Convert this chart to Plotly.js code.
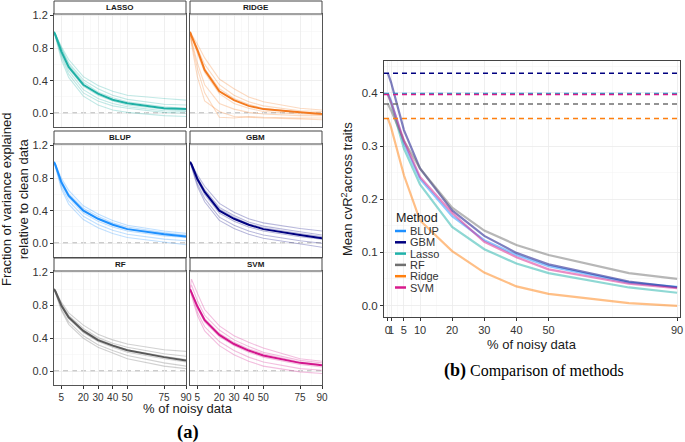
<!DOCTYPE html>
<html><head><meta charset="utf-8">
<script src="https://cdn.plot.ly/plotly-3.0.1.min.js"></script>
<style>html,body{margin:0;padding:0;background:#fff}#chart{width:685px;height:442px}</style>
</head><body><div id="chart"></div>
<script>
// ---------------- DATA ----------------
const noiseLevels = [0, 1, 5, 10, 20, 30, 40, 50, 75, 90];

// Panel (a): fraction of variance explained relative to clean data
const panelNames = ['LASSO', 'RIDGE', 'BLUP', 'GBM', 'RF', 'SVM'];
const relMean_LASSO = [1, 0.96, 0.76, 0.57, 0.35, 0.24, 0.165, 0.123, 0.062, 0.05];
const relMean_RIDGE = [1, 0.95, 0.78, 0.53, 0.27, 0.16, 0.09, 0.05, 0.01, -0.01];
const relMean_BLUP  = [1, 0.96, 0.75, 0.585, 0.40, 0.30, 0.227, 0.173, 0.11, 0.083];
const relMean_GBM   = [1, 0.97, 0.79, 0.63, 0.40, 0.30, 0.227, 0.173, 0.10, 0.062];
const relMean_RF    = [1, 0.97, 0.80, 0.655, 0.49, 0.377, 0.31, 0.253, 0.17, 0.128];
const relMean_SVM   = [1, 0.96, 0.79, 0.62, 0.44, 0.33, 0.25, 0.19, 0.10, 0.07];

const relTraits_LASSO = [
  [1, 0.97, 0.82, 0.66, 0.45, 0.34, 0.27, 0.22, 0.18, 0.16],
  [1, 0.97, 0.80, 0.62, 0.41, 0.30, 0.22, 0.17, 0.11, 0.10],
  [1, 0.95, 0.74, 0.55, 0.33, 0.22, 0.15, 0.10, 0.05, 0.03],
  [1, 0.94, 0.70, 0.48, 0.25, 0.15, 0.09, 0.06, 0.01, 0.00],
  [1, 0.93, 0.66, 0.44, 0.21, 0.10, 0.04, 0.01, -0.03, -0.04],
  [1, 0.96, 0.78, 0.60, 0.38, 0.26, 0.19, 0.14, 0.08, 0.06],
  [1, 0.95, 0.72, 0.52, 0.29, 0.18, 0.12, 0.08, 0.03, 0.02]
];
const relTraits_RIDGE = [
  [1, 0.97, 0.85, 0.68, 0.42, 0.30, 0.20, 0.14, 0.06, 0.04],
  [1, 0.96, 0.80, 0.60, 0.35, 0.22, 0.14, 0.09, 0.03, 0.02],
  [1, 0.94, 0.74, 0.50, 0.24, 0.12, 0.06, 0.02, -0.01, -0.02],
  [1, 0.90, 0.62, 0.35, 0.12, 0.05, 0.01, -0.01, -0.03, -0.03],
  [1, 0.85, 0.45, 0.15, 0.02, -0.04, -0.05, -0.06, -0.07, -0.08],
  [1, 0.88, 0.55, 0.25, -0.05, -0.06, -0.04, -0.05, -0.06, -0.06],
  [1, 0.95, 0.77, 0.55, 0.30, 0.18, 0.11, 0.06, 0.01, 0.00]
];
const relTraits_BLUP = [
  [1, 0.97, 0.80, 0.65, 0.46, 0.36, 0.28, 0.22, 0.15, 0.12],
  [1, 0.96, 0.77, 0.61, 0.43, 0.33, 0.25, 0.20, 0.13, 0.10],
  [1, 0.95, 0.73, 0.56, 0.37, 0.27, 0.20, 0.15, 0.09, 0.07],
  [1, 0.94, 0.70, 0.52, 0.33, 0.23, 0.16, 0.11, 0.05, 0.03],
  [1, 0.93, 0.67, 0.48, 0.29, 0.19, 0.12, 0.07, 0.01, -0.02],
  [1, 0.96, 0.76, 0.59, 0.41, 0.31, 0.24, 0.18, 0.12, 0.09]
];
const relTraits_GBM = [
  [1, 0.98, 0.84, 0.70, 0.49, 0.38, 0.30, 0.25, 0.18, 0.15],
  [1, 0.97, 0.81, 0.66, 0.44, 0.34, 0.26, 0.21, 0.14, 0.10],
  [1, 0.96, 0.77, 0.60, 0.37, 0.27, 0.20, 0.15, 0.08, 0.05],
  [1, 0.95, 0.73, 0.55, 0.32, 0.22, 0.15, 0.10, 0.03, 0.00],
  [1, 0.94, 0.70, 0.51, 0.28, 0.18, 0.11, 0.06, -0.01, -0.05],
  [1, 0.97, 0.80, 0.64, 0.42, 0.32, 0.24, 0.19, 0.12, 0.08]
];
const relTraits_RF = [
  [1, 0.98, 0.84, 0.71, 0.56, 0.45, 0.38, 0.33, 0.26, 0.24],
  [1, 0.97, 0.82, 0.68, 0.52, 0.41, 0.34, 0.29, 0.21, 0.18],
  [1, 0.97, 0.79, 0.64, 0.47, 0.36, 0.29, 0.23, 0.15, 0.11],
  [1, 0.96, 0.76, 0.60, 0.43, 0.32, 0.25, 0.19, 0.10, 0.06],
  [1, 0.95, 0.74, 0.57, 0.40, 0.29, 0.22, 0.15, 0.06, 0.03],
  [1, 0.97, 0.81, 0.66, 0.50, 0.39, 0.32, 0.26, 0.18, 0.14]
];
const relTraits_SVM = [
  [1, 1.12, 0.95, 0.75, 0.55, 0.43, 0.35, 0.28, 0.15, 0.12],
  [1, 1.05, 0.86, 0.68, 0.50, 0.38, 0.30, 0.23, 0.13, 0.10],
  [1, 0.96, 0.77, 0.60, 0.42, 0.31, 0.23, 0.17, 0.08, 0.05],
  [1, 0.94, 0.72, 0.54, 0.36, 0.25, 0.17, 0.11, 0.03, 0.01],
  [1, 0.92, 0.68, 0.49, 0.31, 0.20, 0.12, 0.06, -0.01, -0.03],
  [1, 0.97, 0.80, 0.64, 0.46, 0.35, 0.27, 0.21, 0.11, 0.08]
];

// Panel (b): mean cvR2 across traits
const methods = ['BLUP', 'GBM', 'Lasso', 'RF', 'Ridge', 'SVM'];
const cleanR2 = [0.399, 0.437, 0.398, 0.379, 0.352, 0.397];
const meanR2_BLUP  = [0.399, 0.385, 0.305, 0.238, 0.168, 0.123, 0.095, 0.074, 0.043, 0.035];
const meanR2_GBM   = [0.437, 0.420, 0.330, 0.258, 0.179, 0.131, 0.099, 0.0775, 0.045, 0.034];
const meanR2_Lasso = [0.398, 0.380, 0.295, 0.228, 0.148, 0.106, 0.079, 0.061, 0.034, 0.024];
const meanR2_RF    = [0.379, 0.367, 0.310, 0.258, 0.184, 0.141, 0.114, 0.095, 0.061, 0.050];
const meanR2_Ridge = [0.352, 0.335, 0.245, 0.160, 0.1025, 0.062, 0.036, 0.022, 0.0044, -0.0006];
const meanR2_SVM   = [0.397, 0.382, 0.310, 0.242, 0.174, 0.120, 0.091, 0.068, 0.041, 0.0325];

const leftTickVals = [5, 20, 30, 40, 50, 75, 90];
const rightTickVals = [0, 1, 5, 10, 20, 30, 40, 50, 90];

// ---------------- STYLE / LAYOUT ----------------
const W = 685, H = 442;
const px = x => x / W, py = y => 1 - y / H;
const FONT = 'Liberation Sans, Arial, sans-serif';
const SERIF = 'Liberation Serif, Times New Roman, serif';

const panelColors = ['#1FB0A5', '#F47A1F', '#1E90FF', '#000080', '#595959', '#D3168D'];
const panelMeans = [relMean_LASSO, relMean_RIDGE, relMean_BLUP, relMean_GBM, relMean_RF, relMean_SVM];
const panelTraits = [relTraits_LASSO, relTraits_RIDGE, relTraits_BLUP, relTraits_GBM, relTraits_RF, relTraits_SVM];
const methodColors = ['#1E90FF', '#000080', '#20B2AA', '#707070', '#FF7F0E', '#D81B8C'];
const methodMeans = [meanR2_BLUP, meanR2_GBM, meanR2_Lasso, meanR2_RF, meanR2_Ridge, meanR2_SVM];

const colsX = [[54, 186], [190, 322]];
const rowsY = [[14, 127], [144, 257], [271, 385]];
const stripY = [[1, 14], [131, 144], [258, 271]];

const traces = [];
const layout = {
  width: W, height: H, margin: {l: 0, r: 0, t: 0, b: 0},
  paper_bgcolor: '#fff', plot_bgcolor: '#fff', showlegend: false,
  font: {family: FONT, color: '#333'},
  shapes: [], annotations: []
};

function hexA(hex, a) {
  const n = parseInt(hex.slice(1), 16);
  return `rgba(${(n >> 16) & 255},${(n >> 8) & 255},${n & 255},${a})`;
}

panelNames.forEach((name, i) => {
  const row = Math.floor(i / 2), col = i % 2;
  const k = i + 1, xs = 'x' + (k === 1 ? '' : k), ys = 'y' + (k === 1 ? '' : k);
  const xa = 'xaxis' + (k === 1 ? '' : k), ya = 'yaxis' + (k === 1 ? '' : k);
  const bottom = row === 2, left = col === 0;
  layout[xa] = {
    domain: [px(colsX[col][0]), px(colsX[col][1])], range: [0, 90], anchor: ys,
    tickmode: 'array', tickvals: leftTickVals, ticktext: leftTickVals.map(String), tickangle: 0,
    showticklabels: bottom, ticks: bottom ? 'outside' : '', ticklen: 3, tickcolor: '#333',
    tickfont: {size: 10, color: '#333'},
    showgrid: true, gridcolor: '#EBEBEB', gridwidth: 0.8, zeroline: false,
    minor: {tickvals: [12.5, 25, 35, 45, 62.5, 82.5], showgrid: true, gridcolor: '#F3F3F3', gridwidth: 0.5},
    showline: true, mirror: true, linecolor: '#555', linewidth: 1
  };
  layout[ya] = {
    domain: [py(rowsY[row][1]), py(rowsY[row][0])], range: [-0.17, 1.22], anchor: xs,
    tickmode: 'array', tickvals: [0, 0.4, 0.8, 1.2], ticktext: ['0.0', '0.4', '0.8', '1.2'],
    showticklabels: left, ticks: left ? 'outside' : '', ticklen: 3, tickcolor: '#333',
    tickfont: {size: 11, color: '#333'},
    showgrid: true, gridcolor: '#EBEBEB', gridwidth: 0.8, zeroline: false,
    minor: {tickvals: [0.2, 0.6, 1.0], showgrid: true, gridcolor: '#F3F3F3', gridwidth: 0.5},
    showline: true, mirror: true, linecolor: '#555', linewidth: 1
  };
  // zero reference line
  layout.shapes.push({type: 'line', xref: xs + ' domain', yref: ys, x0: 0, x1: 1, y0: 0, y1: 0,
    line: {color: '#999', width: 1.2, dash: '5px,4px'}, layer: 'below'});
  // strip
  layout.shapes.push({type: 'rect', xref: 'paper', yref: 'paper',
    x0: px(colsX[col][0]), x1: px(colsX[col][1]), y0: py(stripY[row][1]), y1: py(stripY[row][0]),
    fillcolor: '#FFFFFF', line: {color: '#444', width: 1}});
  layout.annotations.push({xref: 'paper', yref: 'paper', x: px((colsX[col][0] + colsX[col][1]) / 2),
    y: py((stripY[row][0] + stripY[row][1]) / 2), text: '<b>' + name + '</b>', showarrow: false,
    font: {size: 8, color: '#1a1a1a', family: FONT}, xanchor: 'center', yanchor: 'middle'});
  // trait lines
  panelTraits[i].forEach(t => traces.push({x: noiseLevels, y: t, xaxis: xs, yaxis: ys, mode: 'lines',
    line: {color: hexA(panelColors[i], 0.28), width: 1.1}, hoverinfo: 'skip'}));
  // mean line
  traces.push({x: noiseLevels, y: panelMeans[i], xaxis: xs, yaxis: ys, mode: 'lines',
    line: {color: panelColors[i], width: 2}});
});

// Panel (b)
layout.xaxis7 = {
  domain: [px(384), px(680)], range: [-1.2, 90.9], anchor: 'y7',
  tickmode: 'array', tickvals: rightTickVals, ticktext: rightTickVals.map(String), tickangle: 0,
  ticks: 'outside', ticklen: 3, tickcolor: '#333', tickfont: {size: 11, color: '#333'},
  showgrid: true, gridcolor: '#EBEBEB', gridwidth: 0.8, zeroline: false,
  minor: {tickvals: [0.5, 3, 7.5, 15, 25, 35, 45, 70], showgrid: true, gridcolor: '#F3F3F3', gridwidth: 0.5},
  showline: true, mirror: true, linecolor: '#444', linewidth: 1
};
layout.yaxis7 = {
  domain: [py(316.7), py(61)], range: [-0.021, 0.46], anchor: 'x7',
  tickmode: 'array', tickvals: [0, 0.1, 0.2, 0.3, 0.4], ticktext: ['0.0', '0.1', '0.2', '0.3', '0.4'],
  ticks: 'outside', ticklen: 3, tickcolor: '#333', tickfont: {size: 11.5, color: '#333'},
  showgrid: true, gridcolor: '#EBEBEB', gridwidth: 0.8, zeroline: false,
  minor: {tickvals: [0.05, 0.15, 0.25, 0.35, 0.45], showgrid: true, gridcolor: '#F3F3F3', gridwidth: 0.5},
  showline: true, mirror: true, linecolor: '#444', linewidth: 1
};
methods.forEach((m, i) => {
  layout.shapes.push({type: 'line', xref: 'x7 domain', yref: 'y7', x0: 0, x1: 1, y0: cleanR2[i], y1: cleanR2[i],
    line: {color: methodColors[i], width: 1.5, dash: '5px,4px'}});
  traces.push({x: noiseLevels, y: methodMeans[i], xaxis: 'x7', yaxis: 'y7', mode: 'lines', name: m,
    line: {color: hexA(methodColors[i], 0.5), width: 2.2}});
  // manual legend (ggplot-style short keys)
  const ly = 231 + 11.3 * i;
  layout.shapes.push({type: 'line', xref: 'paper', yref: 'paper', x0: px(395), x1: px(406), y0: py(ly), y1: py(ly),
    line: {color: methodColors[i], width: 2.5}});
  layout.annotations.push({xref: 'paper', yref: 'paper', x: px(408), y: py(ly), text: m, showarrow: false,
    xanchor: 'left', yanchor: 'middle', font: {size: 11, color: '#333', family: FONT}});
});
layout.annotations.push({xref: 'paper', yref: 'paper', x: px(394), y: py(218), text: 'Method', showarrow: false,
  xanchor: 'left', yanchor: 'middle', font: {size: 12.5, color: '#1a1a1a', family: FONT}});

// Titles
layout.annotations.push(
  {xref: 'paper', yref: 'paper', x: px(15), y: py(200), text: 'Fraction of variance explained<br>relative to clean data',
    textangle: -90, showarrow: false, xanchor: 'center', yanchor: 'middle', font: {size: 13, color: '#1a1a1a', family: FONT}},
  {xref: 'paper', yref: 'paper', x: px(188), y: py(408), text: '% of noisy data', showarrow: false,
    xanchor: 'center', yanchor: 'middle', font: {size: 13, color: '#1a1a1a', family: FONT}},
  {xref: 'paper', yref: 'paper', x: px(188), y: py(432), text: '<b>(a)</b>', showarrow: false,
    xanchor: 'center', yanchor: 'middle', font: {size: 18.5, color: '#000', family: SERIF}},
  {xref: 'paper', yref: 'paper', x: px(347), y: py(189), text: 'Mean cvR<sup>2</sup>across traits', textangle: -90,
    showarrow: false, xanchor: 'center', yanchor: 'middle', font: {size: 13, color: '#1a1a1a', family: FONT}},
  {xref: 'paper', yref: 'paper', x: px(532), y: py(344), text: '% of noisy data', showarrow: false,
    xanchor: 'center', yanchor: 'middle', font: {size: 13, color: '#1a1a1a', family: FONT}},
  {xref: 'paper', yref: 'paper', x: px(534), y: py(370), text: '<b><span style="font-size:18px">(b)</span></b> Comparison of methods',
    showarrow: false, xanchor: 'center', yanchor: 'middle', font: {size: 16, color: '#000', family: SERIF}}
);

Plotly.newPlot('chart', traces, layout, {staticPlot: true, displayModeBar: false});
</script></body></html>
